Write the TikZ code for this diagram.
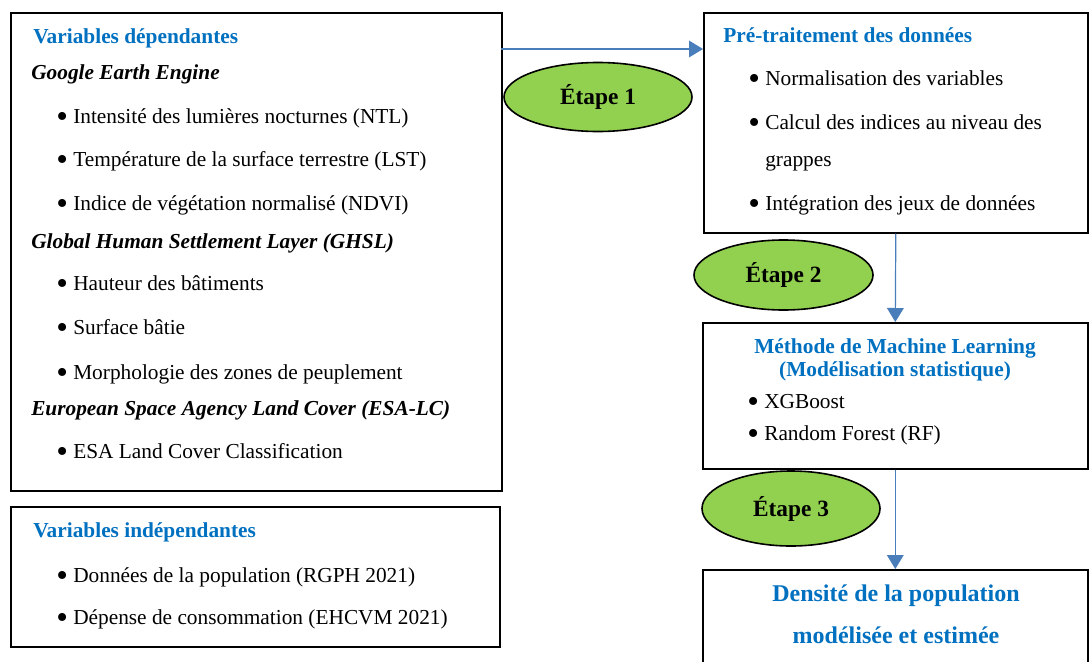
\documentclass[tikz,border=0pt]{standalone}
\usepackage{fontspec}
\setmainfont{Liberation Serif}
\usetikzlibrary{shapes.geometric,arrows.meta}

\definecolor{titreblue}{HTML}{0070C0}
\definecolor{etapegreen}{HTML}{92D050}
\definecolor{flecheblue}{HTML}{4A7EBB}

\newcommand{\puce}{{\fontsize{25}{25}\selectfont\raisebox{-3.5pt}{\textbullet}}\hspace{4pt}}

\begin{document}
\begin{tikzpicture}[x=0.75pt, y=-0.75pt,
  boite/.style={draw, line width=1.2pt, anchor=north west, inner sep=0pt},
  etape/.style={ellipse, draw, line width=1.2pt, fill=etapegreen, inner sep=0pt,
    font=\fontsize{17.5}{20}\selectfont\bfseries},
  txt/.style={anchor=base west, inner sep=0pt, font=\fontsize{16}{19}\selectfont},
  titre/.style={txt, text=titreblue, font=\fontsize{16}{19}\selectfont\bfseries},
  source/.style={txt, font=\fontsize{16}{19}\selectfont\bfseries\itshape},
  fleche/.style={draw=flecheblue, line width=0.9pt, -{Triangle[length=10.5pt,width=12.5pt]}}]

\fill[white] (0,0) rectangle (1089,661);
\useasboundingbox (0,0) rectangle (1089,661);

%boxes
\node[boite, minimum width=368.25pt, minimum height=358.5pt] at (10, 12) (dep) {};
\node[boite, minimum width=366.75pt, minimum height=105pt] at (10, 506) (indep) {};
\node[boite, minimum width=288pt, minimum height=165pt] at (703, 12) (pre) {};
\node[boite, minimum width=288.75pt, minimum height=109.5pt] at (702, 322) (ml) {};
\node[boite, minimum width=288.75pt, minimum height=83.25pt] at (702, 569) (dens) {};

%variables dependantes
\node[titre] at (33, 43) (t1) {Variables dépendantes};
\node[source] at (31, 79) (gee) {Google Earth Engine};
\node[txt] at (56, 123) (ntl) {\puce Intensité des lumières nocturnes (NTL)};
\node[txt] at (56, 166) (lst) {\puce Température de la surface terrestre (LST)};
\node[txt] at (56, 210) (ndvi) {\puce Indice de végétation normalisé (NDVI)};
\node[source] at (31, 248) (ghsl) {Global Human Settlement Layer (GHSL)};
\node[txt] at (56, 290) (haut) {\puce Hauteur des bâtiments};
\node[txt] at (56, 334) (surf) {\puce Surface bâtie};
\node[txt] at (56, 379) (morph) {\puce Morphologie des zones de peuplement};
\node[source] at (31, 415) (esa) {European Space Agency Land Cover (ESA-LC)};
\node[txt] at (56, 458) (esacl) {\puce ESA Land Cover Classification};

%variables independantes
\node[titre] at (33, 537) (t2) {Variables indépendantes};
\node[txt] at (56, 582) (rgph) {\puce Données de la population (RGPH 2021)};
\node[txt] at (56, 624) (ehcvm) {\puce Dépense de consommation (EHCVM 2021)};

%pre-traitement
\node[titre] at (723, 42) (t3) {Pré-traitement des données};
\node[txt] at (748, 85) (norm) {\puce Normalisation des variables};
\node[txt] at (748, 129) (calc) {\puce Calcul des indices au niveau des};
\node[txt] at (765, 166) (grap) {grappes};
\node[txt] at (748, 210) (integ) {\puce Intégration des jeux de données};

%machine learning
\node[titre, anchor=base] at (895, 353) (t4) {Méthode de Machine Learning};
\node[titre, anchor=base] at (895, 376) (t4b) {(Modélisation statistique)};
\node[txt] at (747, 408) (xgb) {\puce XGBoost};
\node[txt] at (747, 440) (rf) {\puce Random Forest (RF)};

%densite
\node[titre, anchor=base, font=\fontsize{18}{21}\selectfont\bfseries] at (896, 601) (t5) {Densité de la population};
\node[titre, anchor=base, font=\fontsize{18}{21}\selectfont\bfseries] at (896, 643) (t5b) {modélisée et estimée};

%steps
\node[etape, minimum width=141pt, minimum height=51.75pt] at (598, 97) (e1) {Étape 1};
\node[etape, minimum width=134.25pt, minimum height=52.5pt] at (783.5, 275) (e2) {Étape 2};
\node[etape, minimum width=133.5pt, minimum height=56.25pt] at (791, 508.5) (e3) {Étape 3};

%arrows
\coordinate (a1) at (501, 49);
\draw[fleche] (a1) -- (a1 -| pre.west);
\draw[fleche] (pre.south) -- (ml.north);
\draw[fleche] (ml.south) -- (dens.north);

\end{tikzpicture}
\end{document}
